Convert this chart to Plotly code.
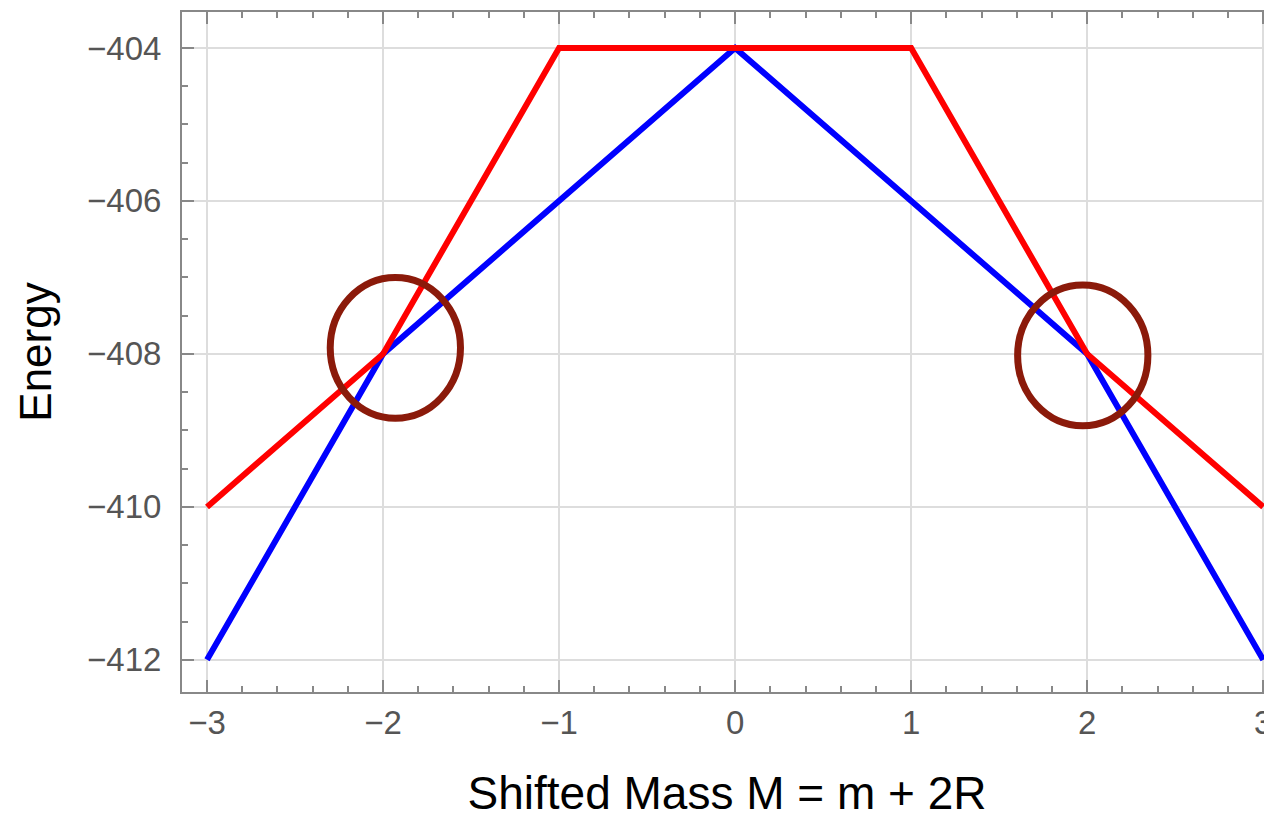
import plotly.graph_objects as go

# Data
red_x = [-3, -2, -1, 1, 2, 3]
red_y = [-410, -408, -404, -404, -408, -410]
blue_x = [-3, -2, 0, 2, 3]
blue_y = [-412, -408, -404, -408, -412]

x_ticks = [-3, -2, -1, 0, 1, 2, 3]
y_ticks = [-412, -410, -408, -406, -404]

# Highlight circles (center x, center y)
circle_cx = [-1.93, 1.975]
circle_cy = [-407.92, -408.02]
circle_rx = 0.37
circle_ry = 0.92

fig = go.Figure()
fig.add_trace(go.Scatter(x=blue_x, y=blue_y, mode="lines",
                         line=dict(color="#0000FF", width=6), showlegend=False))
fig.add_trace(go.Scatter(x=red_x, y=red_y, mode="lines",
                         line=dict(color="#FF0000", width=6), showlegend=False))

for cx, cy in zip(circle_cx, circle_cy):
    fig.add_shape(type="circle", xref="x", yref="y",
                  x0=cx - circle_rx, x1=cx + circle_rx,
                  y0=cy - circle_ry, y1=cy + circle_ry,
                  line=dict(color="#8B1A0A", width=7))

axis_font = dict(family="Liberation Sans, Arial, sans-serif", size=33, color="#555555")

fig.update_xaxes(
    range=[-3.142, 3.05], tickvals=x_ticks, ticktext=[str(v).replace("-", "\u2212") for v in x_ticks],
    showgrid=True, gridcolor="#DDDDDD", gridwidth=1.5,
    showline=True, linecolor="#888888", linewidth=2, mirror="ticks",
    ticks="inside", ticklen=12, tickwidth=2, tickcolor="#888888",
    minor=dict(dtick=0.2, ticks="inside", ticklen=6, tickwidth=2, tickcolor="#888888", showgrid=False),
    tickfont=axis_font, zeroline=False, ticklabelstandoff=0, automargin=False,
    ticklabeloverflow="allow",
    title=dict(text="Shifted Mass M = m + 2R",
               font=dict(family="Liberation Sans, Arial, sans-serif", size=46, color="black"),
               standoff=40),
)
fig.update_yaxes(
    range=[-412.42, -403.53], tickvals=y_ticks, ticktext=[str(v).replace("-", "\u2212") for v in y_ticks],
    showgrid=True, gridcolor="#DDDDDD", gridwidth=1.5,
    showline=True, linecolor="#888888", linewidth=2, mirror=False,
    ticks="inside", ticklen=12, tickwidth=2, tickcolor="#888888",
    minor=dict(dtick=0.5, ticks="inside", ticklen=6, tickwidth=2, tickcolor="#888888", showgrid=False),
    tickfont=axis_font, zeroline=False, ticklabelstandoff=12, automargin=False,
    title=dict(text="Energy",
               font=dict(family="Liberation Sans, Arial, sans-serif", size=44, color="black"),
               standoff=22),
)

fig.update_layout(
    width=1264, height=811,
    margin=dict(l=174, r=0, t=4, b=127),
    plot_bgcolor="white", paper_bgcolor="white",
)

fig.write_html("out.html")
